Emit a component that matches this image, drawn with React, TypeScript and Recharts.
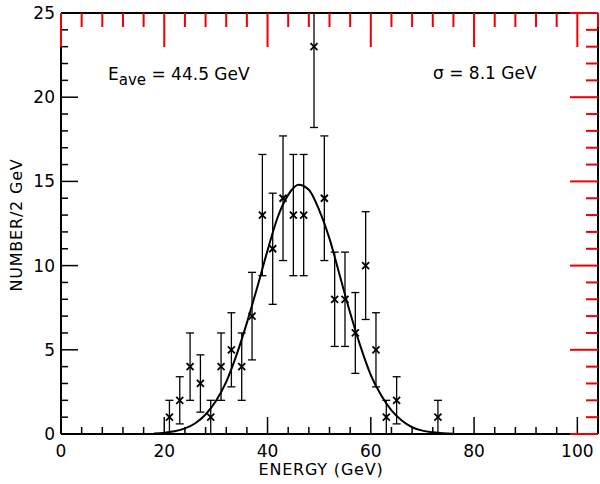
import React from 'react';
import { ComposedChart, Scatter, Line, XAxis, YAxis, ErrorBar } from 'recharts';

// measured points: bin centre (GeV), counts, +/- error
const energy = [21, 23, 25, 27, 29, 31, 33, 35, 37, 39, 41, 43, 45, 47, 49, 51, 53, 55, 57, 59, 61, 63, 65, 73];
const counts = [1, 2, 4, 3, 1, 4, 5, 4, 7, 13, 11, 14, 13, 13, 23, 14, 8, 8, 6, 10, 5, 1, 2, 1];
const errors = [1, 1.4, 2, 1.7, 1, 2, 2.2, 2, 2.6, 3.6, 3.3, 3.7, 3.6, 3.6, 4.8, 3.7, 2.8, 2.8, 2.4, 3.2, 2.2, 1, 1.4, 1];

// fitted curve
const fitEnergy = [18, 20, 22, 24, 26, 28, 30, 32, 34, 36, 38, 40, 42, 44, 46, 48, 50, 52, 54, 56, 58, 60, 62, 64, 66, 68, 70, 72, 74, 76];
const fitValues = [0.03, 0.08, 0.16, 0.33, 0.64, 1.16, 1.96, 3.1, 4.7, 6.6, 8.7, 10.9, 12.9, 14.2, 14.8, 14.5, 13.3, 11.6, 9.4, 7.2, 5.2, 3.5, 2.3, 1.4, 0.8, 0.4, 0.2, 0.1, 0.04, 0.02];

const xMajorTicks = [0, 20, 40, 60, 80, 100];
const xTicks = [0, 4, 8, 12, 16, 20, 24, 28, 32, 36, 40, 44, 48, 52, 56, 60, 64, 68, 72, 76, 80, 84, 88, 92, 96, 100, 104];
const yMajorTicks = [0, 5, 10, 15, 20, 25];
const yTicks = [0, 1, 2, 3, 4, 5, 6, 7, 8, 9, 10, 11, 12, 13, 14, 15, 16, 17, 18, 19, 20, 21, 22, 23, 24, 25];

const X_MAX = 104;
const Y_MAX = 25;

const points = energy.map((e, i) => ({ x: e, y: counts[i], err: errors[i] }));
const fit = fitEnergy.map((e, i) => ({ x: e, y: fitValues[i] }));

const FONT = '"DejaVu Sans", sans-serif';
const MAJOR = 17;
const MINOR = 7;

// plot frame (matches the chart margins / axis sizes below)
const LEFT = 61;
const RIGHT = 598;
const TOP = 13;
const BOTTOM = 434;
const sx = (v: number) => LEFT + (v / X_MAX) * (RIGHT - LEFT);
const sy = (v: number) => BOTTOM - (v / Y_MAX) * (BOTTOM - TOP);

const XTick = (props: any) => {
  const { x, y, payload } = props;
  const v = payload.value;
  const major = xMajorTicks.includes(v);
  const len = major ? MAJOR : MINOR;
  return (
    <g>
      <line x1={x} x2={x} y1={y} y2={y - len} stroke="#000" strokeWidth={1.5} />
      {major && (
        <text x={x} y={y + 23} textAnchor="middle" fontFamily={FONT} fontSize={17} fill="#000">
          {v}
        </text>
      )}
    </g>
  );
};

const YTick = (props: any) => {
  const { x, y, payload } = props;
  const v = payload.value;
  const major = yMajorTicks.includes(v);
  const len = major ? MAJOR : MINOR;
  return (
    <g>
      <line x1={x} x2={x + len} y1={y} y2={y} stroke="#000" strokeWidth={1.5} />
      {major && (
        <text x={x - 6} y={y + 6} textAnchor="end" fontFamily={FONT} fontSize={17} fill="#000">
          {v}
        </text>
      )}
    </g>
  );
};

const Cross = (props: any) => {
  const { cx, cy } = props;
  const s = 3.5;
  return (
    <g stroke="#000" strokeWidth={1.8}>
      <line x1={cx - s} y1={cy - s} x2={cx + s} y2={cy + s} />
      <line x1={cx - s} y1={cy + s} x2={cx + s} y2={cy - s} />
    </g>
  );
};

const Nothing = () => <g />;

export default function App() {
  return (
    <div style={{ position: 'absolute', left: 0, top: 0, width: 600, height: 484, background: '#fff' }}>
      <ComposedChart width={600} height={484} margin={{ top: 0, right: 0, bottom: 0, left: 0 }}>
        <XAxis
          xAxisId="bottom"
          dataKey="x"
          type="number"
          domain={[0, X_MAX]}
          allowDataOverflow
          ticks={xTicks}
          interval={0}
          height={50}
          tickSize={0}
          tickMargin={0}
          tickLine={false}
          axisLine={{ stroke: '#000', strokeWidth: 2 }}
          tick={<XTick />}
        />
        <XAxis
          xAxisId="top"
          dataKey="x"
          orientation="top"
          type="number"
          domain={[0, X_MAX]}
          allowDataOverflow
          height={13}
          tick={false}
          tickLine={false}
          axisLine={{ stroke: '#000', strokeWidth: 2 }}
        />
        <YAxis
          yAxisId="left"
          type="number"
          domain={[0, Y_MAX]}
          allowDataOverflow
          ticks={yTicks}
          interval={0}
          width={61}
          tickSize={0}
          tickMargin={0}
          tickLine={false}
          axisLine={{ stroke: '#000', strokeWidth: 2 }}
          tick={<YTick />}
        />
        <YAxis
          yAxisId="right"
          orientation="right"
          type="number"
          domain={[0, Y_MAX]}
          allowDataOverflow
          width={2}
          tick={false}
          tickLine={false}
          axisLine={{ stroke: '#000', strokeWidth: 2 }}
        />
        {/* invisible series so the top and right frame axes get drawn */}
        <Scatter
          xAxisId="top"
          yAxisId="right"
          data={points}
          dataKey="y"
          shape={<Nothing />}
          isAnimationActive={false}
        />
        <Line
          xAxisId="bottom"
          yAxisId="left"
          data={fit}
          dataKey="y"
          type="monotone"
          stroke="#000"
          strokeWidth={2}
          dot={false}
          isAnimationActive={false}
        />
        <Scatter
          xAxisId="bottom"
          yAxisId="left"
          data={points}
          dataKey="y"
          shape={<Cross />}
          isAnimationActive={false}
        >
          <ErrorBar dataKey="err" direction="y" width={4} stroke="#000" strokeWidth={1.3} />
        </Scatter>
      </ComposedChart>
      {/* frame decoration on top: white strip above the frame, inward ticks on top and right */}
      <svg width={600} height={484} style={{ position: 'absolute', left: 0, top: 0, zIndex: 10, pointerEvents: 'none' }}>
        <rect x={70} y={0} width={520} height={TOP - 1} fill="#fff" />
        {xTicks.map((v) => (
          <line
            key={`t${v}`}
            x1={sx(v)}
            x2={sx(v)}
            y1={TOP}
            y2={TOP + (xMajorTicks.includes(v) ? MAJOR : MINOR) * 2}
            stroke="#e00"
            strokeWidth={2}
          />
        ))}
        {yTicks.map((v) => (
          <line
            key={`r${v}`}
            x1={RIGHT}
            x2={RIGHT - (yMajorTicks.includes(v) ? 14 : 6) * 2}
            y1={sy(v)}
            y2={sy(v)}
            stroke="#e00"
            strokeWidth={2}
          />
        ))}
      </svg>
      <div style={{ position: 'absolute', left: 108, top: 64, fontFamily: FONT, fontSize: 17, color: '#000', whiteSpace: 'nowrap', zIndex: 11 }}>
        E<sub style={{ fontSize: 15, verticalAlign: -5 }}>ave</sub> = 44.5 GeV
      </div>
      <div style={{ position: 'absolute', left: 433, top: 63, fontFamily: FONT, fontSize: 17, color: '#000', whiteSpace: 'nowrap', zIndex: 11 }}>
        σ = 8.1 GeV
      </div>
      <div style={{ position: 'absolute', left: 0, width: 642, top: 460, textAlign: 'center', fontFamily: FONT, fontSize: 16, letterSpacing: 0.8, color: '#000', zIndex: 11 }}>
        ENERGY (GeV)
      </div>
      <div
        style={{
          position: 'absolute',
          left: 16,
          top: 225,
          transform: 'translate(-50%, -50%) rotate(-90deg)',
          fontFamily: FONT,
          fontSize: 16,
          letterSpacing: 0.8,
          color: '#000',
          whiteSpace: 'nowrap',
          zIndex: 11,
        }}
      >
        NUMBER/2 GeV
      </div>
    </div>
  );
}
